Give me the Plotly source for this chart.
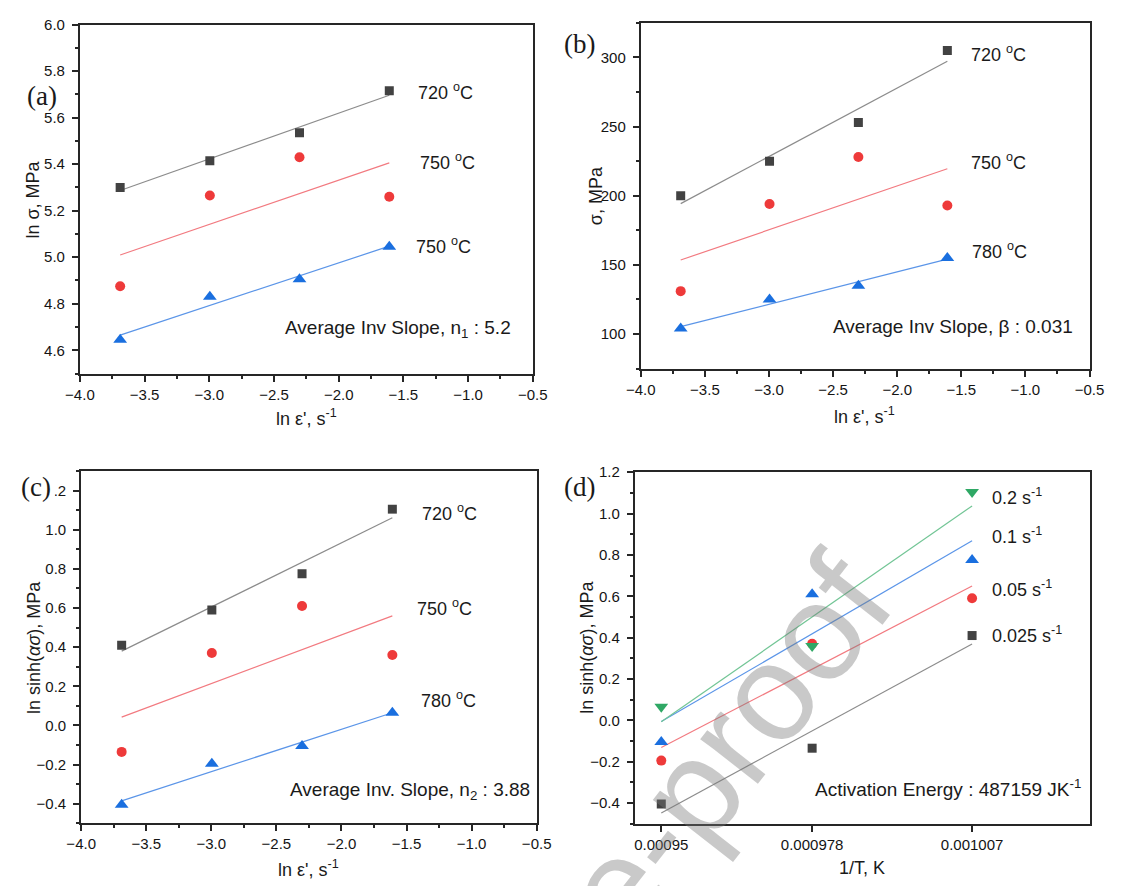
import numpy as np
import plotly.graph_objects as go

W, H = 1123, 886

# ---- data -------------------------------------------------------------
ln_rate = [-3.689, -2.996, -2.303, -1.609]          # ln of strain rate
rate_labels = ["0.025", "0.05", "0.1", "0.2"]

# (a) ln(sigma) vs ln(strain rate)
a_720 = [5.30, 5.415, 5.535, 5.715]
a_750 = [4.875, 5.265, 5.43, 5.26]
a_780 = [4.645, 4.83, 4.905, 5.045]

# (b) sigma vs ln(strain rate)
b_720 = [200, 225, 253, 305]
b_750 = [131, 194, 228, 193]
b_780 = [104, 125, 135, 155]

# (c) ln sinh(alpha*sigma) vs ln(strain rate)
c_720 = [0.41, 0.59, 0.775, 1.105]
c_750 = [-0.135, 0.37, 0.61, 0.36]
c_780 = [-0.405, -0.195, -0.105, 0.065]

# (d) ln sinh(alpha*sigma) vs 1/T  (780, 750, 720 degC)
inv_T = [0.00094967, 0.00097752, 0.00100705]
inv_T_labels = ["0.00095", "0.000978", "0.001007"]

# ---- style ------------------------------------------------------------
SQ = dict(symbol="square", size=9, color="#424242")
CI = dict(symbol="circle", size=10, color="#ee3a3a")
TU = dict(symbol="triangle-up", size=12, color="#1a6fdf")
TD = dict(symbol="triangle-down", size=12, color="#2fa865")
LINE = {"#424242": "#8c8c8c", "#ee3a3a": "#f27a80",
        "#1a6fdf": "#5b95e8", "#2fa865": "#72c595"}

AX = "#262626"
TICKFONT = dict(family="Arial", size=15, color="#141414")


def fx(p):
    return p / W


def fy(p):
    return 1 - p / H


fig = go.Figure()


def add_series(x, y, marker, xa, ya):
    k = np.polyfit(x, y, 1)
    xs = np.array([min(x), max(x)])
    fig.add_trace(go.Scatter(x=xs, y=np.polyval(k, xs), mode="lines",
                             line=dict(color=LINE[marker["color"]], width=1.2),
                             xaxis=xa, yaxis=ya, hoverinfo="skip"))
    fig.add_trace(go.Scatter(x=x, y=y, mode="markers", marker=marker,
                             xaxis=xa, yaxis=ya))


for ys, m in ((a_720, SQ), (a_750, CI), (a_780, TU)):
    add_series(ln_rate, ys, m, "x", "y")
for ys, m in ((b_720, SQ), (b_750, CI), (b_780, TU)):
    add_series(ln_rate, ys, m, "x2", "y2")
for ys, m in ((c_720, SQ), (c_750, CI), (c_780, TU)):
    add_series(ln_rate, ys, m, "x3", "y3")

# panel (d): one series per strain rate, taken across the three temperatures
for i, m in enumerate((SQ, CI, TU, TD)):
    add_series(inv_T, [c_780[i], c_750[i], c_720[i]], m, "x4", "y4")


def axis(domain, rng, **kw):
    d = dict(domain=domain, range=rng, showline=True, linecolor=AX,
             linewidth=2, mirror=True, ticks="outside", ticklen=6,
             tickwidth=1.5, tickcolor=AX, showgrid=False, zeroline=False,
             tickfont=TICKFONT)
    d.update(kw)
    return d


def minor(step):
    return dict(dtick=step, ticks="outside", ticklen=3, tickwidth=1.5,
                tickcolor=AX, showgrid=False)


xr = [-4.0, -0.5]
xkw = dict(dtick=0.5, tick0=0, tickformat=".1f", minor=minor(0.25))
ykw = dict(tick0=0, ticklabelstandoff=4)

fig.update_layout(
    xaxis=axis([fx(66.7), fx(532)], xr, anchor="y", **xkw),
    yaxis=axis([fy(368.3), fy(15.7)], [4.5, 6.0], anchor="x", dtick=0.2,
               tickformat=".1f", minor=minor(0.1), **ykw),
    xaxis2=axis([fx(643), fx(1104)], xr, anchor="y2", **xkw),
    yaxis2=axis([fy(363.3), fy(14)], [75, 325], anchor="x2", dtick=50,
                minor=minor(25), **ykw),
    xaxis3=axis([fx(68), fx(536)], xr, anchor="y3", **xkw),
    yaxis3=axis([fy(822.7), fy(466.7)], [-0.5, 1.3], anchor="x3", dtick=0.2,
                tickformat=".1f", minor=minor(0.1), **ykw),
    xaxis4=axis([fx(636.8), fx(1104)], [0.00094478, 0.00102873], anchor="y4",
                tickvals=inv_T, ticktext=inv_T_labels),
    yaxis4=axis([fy(823), fy(468)], [-0.5, 1.2], anchor="x4", dtick=0.2,
                tickformat=".1f", minor=minor(0.1), **ykw),
)

ann = []


def text(x, y, s, size=18, family="Arial", xanchor="left", angle=0, **kw):
    ann.append(dict(x=fx(x), y=fy(y), xref="paper", yref="paper", text=s,
                    showarrow=False, xanchor=xanchor, yanchor="middle",
                    textangle=angle,
                    font=dict(family=family, size=size, color="#1a1a1a"), **kw))


deg = " <sup>o</sup>C"
rate_axis = "ln ε', s<sup>-1</sup>"
sinh_axis = "ln sinh(<i>ασ</i>), MPa"

# panel (a)
text(28, 88, "(a)", size=27, family="Liberation Serif", xanchor="center")
text(412, 83, "720" + deg)
text(414, 154, "750" + deg)
text(410, 239, "750" + deg)
text(275, 323, "Average Inv Slope, n<sub>1</sub> : 5.2", size=19)
text(299, 413, rate_axis, xanchor="center")
text(19, 192, "ln σ, MPa", xanchor="center", angle=-90)

# panel (b)
text(580, 35, "(b)", size=27, family="Liberation Serif", xanchor="center")
text(980, 45, "720" + deg)
text(980, 154, "750" + deg)
text(981, 244, "780" + deg)
text(838, 321, "Average Inv Slope, β : 0.031", size=19)
text(873, 411, rate_axis, xanchor="center")
text(597, 189, "σ, MPa", xanchor="center", angle=-90)

# panel (c)
text(22, 483, "(c)", size=27, family="Liberation Serif", xanchor="center",
     bgcolor="white", borderpad=3)
text(416, 509, "720" + deg)
text(411, 605, "750" + deg)
text(415, 698, "780" + deg)
text(280, 790, "Average Inv. Slope, n<sub>2</sub> : 3.88", size=19)
text(302, 868, rate_axis, xanchor="center")
text(20, 645, sinh_axis, xanchor="center", angle=-90)

# panel (d)
text(580, 483, "(d)", size=27, family="Liberation Serif", xanchor="center")
for yy, r in zip((632, 585, 532, 493), rate_labels):
    text(1002, yy, r + " s<sup>-1</sup>")
text(820, 787, "Activation Energy : 487159 JK<sup>-1</sup>", size=19)
text(870, 868, "1/T, K", xanchor="center")
text(588, 645, sinh_axis, xanchor="center", angle=-90)

# diagonal watermark
ann.append(dict(x=fx(532), y=fy(995), xref="paper", yref="paper",
                text="Journal Pre-proof", showarrow=False, textangle=-52,
                xanchor="center", yanchor="middle",
                font=dict(family="Arial", size=138,
                          color="rgba(120,120,120,0.40)")))

fig.update_layout(
    width=W, height=H, margin=dict(l=0, r=0, t=0, b=0),
    paper_bgcolor="white", plot_bgcolor="white", showlegend=False,
    annotations=ann,
)

fig.write_html("out.html")
